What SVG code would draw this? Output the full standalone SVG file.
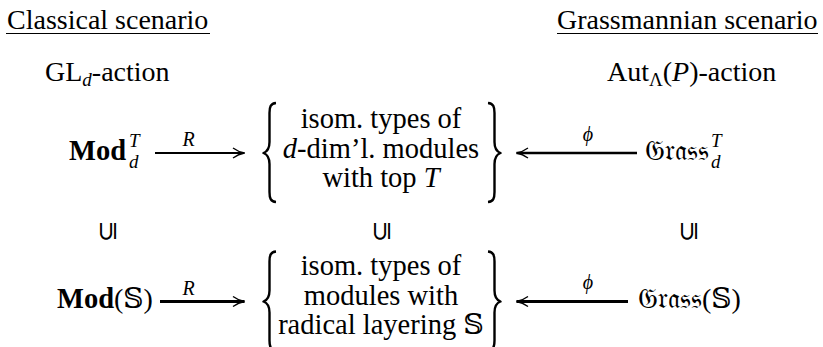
<svg xmlns="http://www.w3.org/2000/svg" width="823" height="347" viewBox="0 0 823 347">
<style>
text{font-family:"Liberation Serif","DejaVu Serif",serif;font-size:28px;fill:#000}
.bf{font-weight:bold;font-size:28.5px}
.it{font-style:italic}
.sm{font-size:19px}
.c{text-anchor:middle;font-size:28.5px}
.lab{font-size:20px;font-style:italic;text-anchor:middle}
.sym{font-family:"DejaVu Sans",sans-serif;font-size:26px;text-anchor:middle;dominant-baseline:central}
.ul{stroke:#000;stroke-width:1.2}
.brace{fill:none;stroke:#000;stroke-width:2.4;stroke-linejoin:round}
.arr{stroke:#000;fill:none;marker-end:url(#ah)}
</style>
<defs>
<marker id="ah" viewBox="0 0 14 12" refX="13" refY="6" markerWidth="14" markerHeight="12" orient="auto" markerUnits="userSpaceOnUse">
<path d="M1.5,1 Q7,5 13,6 Q7,7 1.5,11" fill="none" stroke="#000" stroke-width="1.3"/>
</marker>
<path id="lb" class="brace" d="M276,103 C270.5,103.5 269.5,107 269.5,113 L269.5,142 C269.5,148 267.5,151.5 263.5,153 C267.5,154.5 269.5,158 269.5,164 L269.5,192 C269.5,198 270.5,201.5 276,202"/>
</defs>

<g id="title-classical">
<text x="7" y="29">Classical scenario</text>
<line class="ul" x1="6" y1="33.5" x2="210" y2="33.5"/>
</g>
<g id="title-grassmannian">
<text x="557" y="29">Grassmannian scenario</text>
<line class="ul" x1="557" y1="33.5" x2="818" y2="33.5"/>
</g>
<g id="gl-action">
<text x="45" y="81">GL<tspan class="it sm" dy="5">d</tspan><tspan dy="-5">-action</tspan></text>
</g>
<g id="aut-action">
<text x="607" y="81">Aut<tspan class="sm" dy="5">Λ</tspan><tspan dy="-5">(</tspan><tspan class="it">P</tspan>)-action</text>
</g>

<g id="mod-T">
<text x="69" y="160"><tspan class="bf">Mod</tspan><tspan class="it sm" dx="3" dy="-13">T</tspan><tspan class="it sm" dx="-10.6" dy="21">d</tspan></text>
</g>
<g id="modules-top-T">
<use href="#lb"/>
<use href="#lb" transform="translate(764,0) scale(-1,1)"/>
<text class="c" x="381" y="128">isom. types of</text>
<text class="c" x="381" y="158"><tspan class="it">d</tspan>-dim’l. modules</text>
<text class="c" x="381" y="187">with top <tspan class="it">T</tspan></text>
</g>
<g id="grass-T">
<text x="645" y="160">𝔊𝔯𝔞𝔰𝔰<tspan class="it sm" dx="2" dy="-13">T</tspan><tspan class="it sm" dx="-10.6" dy="21">d</tspan></text>
</g>

<g id="incl-left"><text class="sym" transform="translate(107,231) rotate(-90)">⊆</text></g>
<g id="incl-mid"><text class="sym" transform="translate(381,231) rotate(-90)">⊆</text></g>
<g id="incl-right"><text class="sym" transform="translate(688,231) rotate(-90)">⊆</text></g>

<g id="mod-S">
<text x="57" y="308"><tspan class="bf">Mod</tspan>(𝕊)</text>
</g>
<g id="modules-layering-S">
<use href="#lb" transform="translate(0,148.5)"/>
<use href="#lb" transform="translate(764,148.5) scale(-1,1)"/>
<text class="c" x="381" y="275">isom. types of</text>
<text class="c" x="381" y="305">modules with</text>
<text class="c" x="381" y="334">radical layering 𝕊</text>
</g>
<g id="grass-S">
<text x="638" y="308">𝔊𝔯𝔞𝔰𝔰(𝕊)</text>
</g>

<g id="connectors">
<line class="arr" x1="155" y1="153" x2="244.5" y2="153" stroke-width="2"/>
<text class="lab" x="188.5" y="146">R</text>
<line class="arr" x1="637" y1="153" x2="516.5" y2="153" stroke-width="2.6"/>
<text class="lab" x="588" y="141">ϕ</text>
<line class="arr" x1="160" y1="301.5" x2="244.5" y2="301.5" stroke-width="3"/>
<text class="lab" x="188.5" y="295">R</text>
<line class="arr" x1="628" y1="301.5" x2="516.5" y2="301.5" stroke-width="3"/>
<text class="lab" x="588" y="289">ϕ</text>
</g>
</svg>
